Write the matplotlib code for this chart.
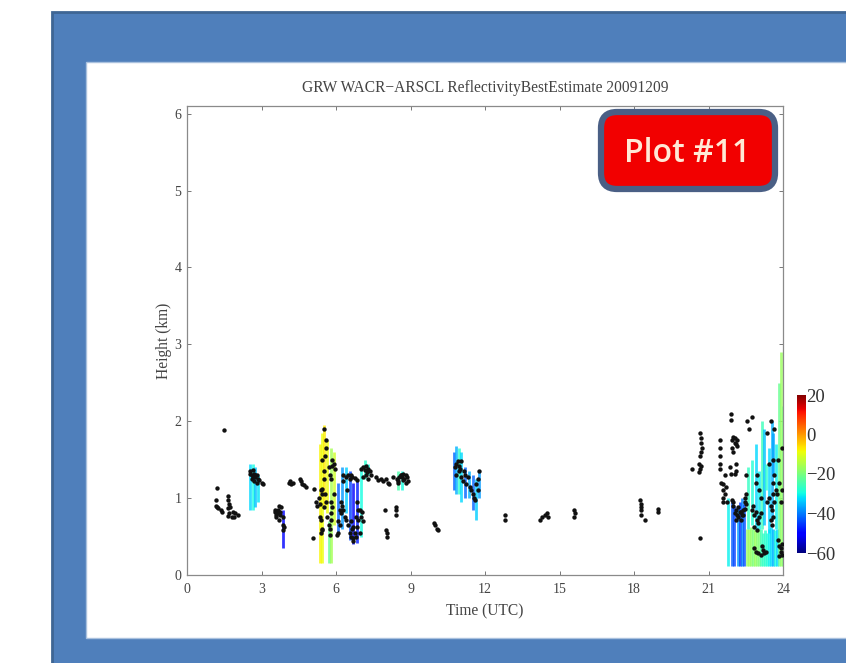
import matplotlib
matplotlib.use('Agg')
import matplotlib.pyplot as plt
import numpy as np
from matplotlib.patches import Rectangle, FancyBboxPatch

title = 'GRW WACR\u2212ARSCL ReflectivityBestEstimate 20091209'
x_ticks = [0, 3, 6, 9, 12, 15, 18, 21, 24]
y_ticks = [0, 1, 2, 3, 4, 5, 6]
cbar_ticks = [20, 0, -20, -40, -60]
cbar_labels = ['20', '0', '\u221220', '\u221240', '\u221260']

# coloured cloud columns
col_time = [2.55, 2.65, 2.75, 2.85, 3.85, 5.35, 5.42, 5.52, 5.62, 5.72, 5.8, 5.9, 6.1, 6.25, 6.4, 6.55, 6.7, 6.85, 7.0, 7.15, 7.3,
            8.5, 8.65, 10.75, 10.85, 10.95, 11.05, 11.2, 11.35, 11.5, 11.62, 11.75,
            21.8, 21.95, 22.03, 22.2, 22.28, 22.36, 22.44,
            22.55, 22.63, 22.71, 22.79, 22.87, 22.95, 23.03, 23.1, 23.18, 23.26, 23.34, 23.42, 23.5, 23.58, 23.66, 23.74, 23.85, 23.92, 23.98,
            22.58, 22.75, 22.9, 23.05, 23.15, 23.25, 23.42, 23.55, 23.7, 23.3, 23.6]
col_bottom = [0.85, 0.85, 0.88, 0.95, 0.35, 0.15, 0.15, 0.9, 0.8, 0.15, 0.15, 0.65, 0.55, 0.6, 0.8, 0.45, 0.4, 0.42, 0.5, 1.25, 1.3,
              1.1, 1.1, 1.1, 1.05, 1.05, 0.95, 1.0, 1.0, 0.85, 0.72, 1.0,
              0.12, 0.12, 0.12, 0.12, 0.12, 0.12, 0.12,
              0.12, 0.12, 0.12, 0.12, 0.12, 0.12, 0.12, 0.12, 0.12, 0.12, 0.12, 0.12, 0.12, 0.12, 0.12, 0.12, 0.12, 0.12, 0.12,
              0.6, 0.65, 0.6, 0.6, 0.6, 0.65, 0.55, 0.7, 0.6, 1.1, 1.3]
col_top = [1.45, 1.45, 1.4, 1.3, 0.85, 1.7, 1.85, 1.95, 1.75, 0.7, 1.65, 1.6, 1.2, 1.4, 1.4, 1.35, 1.2, 1.25, 1.4, 1.5, 1.45,
           1.35, 1.35, 1.6, 1.68, 1.65, 1.6, 1.4, 1.35, 1.3, 1.25, 1.35,
           1.0, 0.95, 0.9, 0.9, 0.95, 1.0, 0.92,
           0.6, 0.6, 0.62, 0.6, 0.58, 0.6, 0.6, 0.6, 0.55, 0.58, 0.55, 0.6, 0.62, 0.6, 0.58, 0.6, 2.5, 2.9, 2.2,
           1.4, 1.5, 1.7, 1.35, 2.0, 1.9, 1.65, 2.0, 1.7, 1.45, 1.85]
col_dbz = [-33, -30, -35, -32, -50, -8, -9, -7, -9, -22, -16, -12, -42, -38, -34, -45, -50, -48, -30, -28, -30,
           -25, -30, -42, -36, -28, -33, -42, -36, -42, -34, -38,
           -31, -43, -45, -38, -46, -40, -44,
           -17, -16, -18, -20, -17, -19, -20, -26, -27, -28, -29, -31, -33, -36, -30, -33, -22, -17, -20,
           -27, -29, -33, -31, -26, -35, -33, -36, -31, -28, -37]

# black dots, grouped by cluster along the time axis
dot_time = [1.2, 1.15, 1.15, 1.2, 1.25, 1.35, 1.4, 1.65, 1.65, 1.7, 1.65, 1.75, 1.7, 1.65, 1.8, 1.85, 1.95, 2.05, 1.9, 1.5,
            2.55, 2.6, 2.65, 2.7, 2.75, 2.8, 2.85, 2.6, 2.7, 2.8, 2.9, 3.0, 3.05, 2.55, 2.65, 2.75,
            3.55, 3.6, 3.65, 3.7, 3.75, 3.6, 3.7, 3.8, 3.75, 3.85, 3.85, 3.85, 3.9, 3.65, 3.55,
            4.1, 4.15, 4.2, 4.25, 4.55, 4.6, 4.65, 4.7, 4.8, 5.1,
            5.2, 5.25, 5.3, 5.35, 5.4, 5.45, 5.35, 5.4, 5.42, 5.38, 5.45, 5.5, 5.55, 5.52, 5.6, 5.58, 5.45, 5.5, 5.55, 5.6, 5.65, 5.42, 5.5,
            5.7, 5.75, 5.8, 5.78, 5.85, 5.9, 5.95, 5.82, 5.9, 5.72, 5.75, 5.78, 5.85, 5.8, 5.75, 5.08,
            6.1, 6.15, 6.2, 6.25, 6.3, 6.35, 6.4, 6.45, 6.5, 6.55, 6.6, 6.65, 6.75, 6.85, 6.2, 6.15, 6.1, 6.05, 6.3, 6.4, 6.3,
            6.5, 6.55, 6.6, 6.65, 6.7, 6.75, 6.8, 6.85, 6.9, 6.95, 7.0, 6.6, 6.7, 6.8, 6.9, 6.7, 6.85, 6.95, 7.05, 7.1,
            7.0, 7.1, 7.15, 7.2, 7.25, 7.3, 7.35, 7.4, 7.1, 7.2, 7.3, 7.6,
            7.7, 7.8, 7.9, 8.0, 8.1, 8.15, 8.3, 7.98, 8.0, 8.05, 8.05, 8.4, 8.42, 8.4,
            8.45, 8.5, 8.55, 8.6, 8.65, 8.7, 8.75, 8.8, 8.85, 8.9, 8.5, 8.6, 8.7, 8.8,
            9.95, 10.0, 10.05, 10.1,
            10.8, 10.85, 10.9, 10.95, 11.0, 11.05, 10.85, 10.95, 11.05, 11.15, 11.2, 11.3, 11.1, 11.25, 11.4, 11.45, 11.5, 11.55, 11.6, 11.7, 11.75, 11.7, 11.65,
            12.8, 12.82, 14.2, 14.3, 14.4, 14.5, 14.55, 15.6, 15.62, 15.6,
            18.25, 18.28, 18.3, 18.3, 18.3, 18.45, 18.95, 18.97,
            20.35, 20.65, 20.65, 20.68, 20.7, 20.72, 20.68, 20.65, 20.62, 20.65, 20.7, 20.62,
            21.45, 21.45, 21.45, 21.45, 21.45, 21.5, 21.6, 21.6, 21.65, 21.6, 21.7, 21.65, 21.75, 21.6,
            21.9, 21.92, 21.95, 22.0, 22.05, 22.1, 22.15, 21.95, 22.0, 22.05, 22.15, 22.1, 22.12, 22.05, 21.85, 21.9, 21.95, 22.0,
            22.0, 22.1, 22.2, 22.3, 22.4, 22.05, 22.15, 22.25, 22.35, 22.45, 22.1, 22.2, 22.3, 22.4, 22.45, 22.5, 22.5, 22.45, 22.62, 22.55, 22.75, 22.5,
            22.75, 22.8, 22.85, 22.9, 22.95, 23.0, 22.85, 22.95, 23.05, 23.1, 22.85, 22.9, 23.0, 23.1, 23.2, 23.25, 23.3, 23.15, 23.1, 23.05, 22.9, 22.95,
            23.35, 23.45, 23.5, 23.55, 23.6, 23.65, 23.5, 23.6, 23.55, 23.45, 23.6, 23.7, 23.65, 23.6, 23.65, 23.35, 23.5,
            23.8, 23.85, 23.9, 23.95, 23.85, 23.9, 23.95, 23.9, 23.95, 23.85, 23.75, 23.8, 23.95]
dot_height = [1.13, 0.98, 0.9, 0.88, 0.87, 0.85, 0.82, 1.03, 0.97, 0.92, 0.87, 0.88, 0.8, 0.77, 0.76, 0.82, 0.8, 0.78, 0.76, 1.88,
              1.35, 1.3, 1.37, 1.32, 1.28, 1.3, 1.25, 1.25, 1.22, 1.2, 1.24, 1.2, 1.18, 1.32, 1.27, 1.3,
              0.82, 0.78, 0.85, 0.9, 0.82, 0.75, 0.72, 0.88, 0.78, 0.75, 0.65, 0.58, 0.62, 0.8, 0.84,
              1.2, 1.22, 1.18, 1.2, 1.25, 1.22, 1.18, 1.17, 1.15, 1.12,
              0.95, 0.9, 1.0, 0.92, 1.1, 1.05, 0.75, 0.72, 0.6, 0.55, 0.58, 1.35, 1.55, 1.9, 1.75, 1.65, 1.5, 1.25, 1.05, 0.95, 0.75, 1.12, 0.88,
              1.4, 1.3, 1.25, 0.95, 1.5, 1.45, 1.38, 1.42, 1.05, 0.65, 0.6, 0.8, 0.88, 0.72, 0.52, 0.48,
              0.55, 0.65, 0.8, 0.9, 0.85, 0.75, 0.72, 1.1, 1.3, 1.25, 1.3, 1.28, 1.26, 1.24, 0.95, 0.85, 0.7, 0.52, 1.3, 1.28, 1.22,
              0.65, 0.55, 0.5, 0.6, 0.48, 0.55, 0.5, 0.62, 0.72, 0.85, 0.75, 0.7, 0.62, 0.75, 0.85, 0.44, 0.95, 0.55, 0.82, 0.7,
              1.38, 1.4, 1.36, 1.42, 1.34, 1.38, 1.35, 1.3, 1.28, 1.3, 1.25, 1.28,
              1.24, 1.25, 1.22, 1.25, 1.2, 1.18, 1.27, 0.85, 0.58, 0.55, 0.5, 0.85, 0.78, 0.88,
              1.25, 1.22, 1.28, 1.3, 1.27, 1.32, 1.25, 1.3, 1.28, 1.22, 1.2, 1.3, 1.24, 1.2,
              0.68, 0.65, 0.6, 0.58,
              1.4, 1.45, 1.48, 1.42, 1.38, 1.48, 1.3, 1.35, 1.28, 1.35, 1.3, 1.28, 1.22, 1.18, 1.15, 1.1, 1.05, 1.0, 0.98, 1.25, 1.35, 1.1, 1.18,
              0.78, 0.72, 0.72, 0.75, 0.78, 0.8, 0.76, 0.85, 0.8, 0.75,
              0.98, 0.92, 0.88, 0.84, 0.78, 0.72, 0.86, 0.82,
              1.38, 0.48, 1.85, 1.78, 1.72, 1.65, 1.6, 1.55, 1.45, 1.38, 1.42, 1.34,
              1.75, 1.65, 1.55, 1.45, 1.38, 1.2, 1.18, 1.1, 1.05, 1.0, 1.15, 1.3, 0.95, 0.95,
              2.1, 2.02, 1.75, 1.8, 1.78, 1.7, 1.75, 1.65, 1.6, 1.72, 1.68, 1.45, 1.35, 1.32, 1.4, 1.32, 0.98, 0.95,
              0.9, 0.85, 0.88, 0.82, 0.85, 0.8, 0.78, 0.82, 0.78, 0.86, 0.72, 0.75, 0.72, 0.78, 1.0, 1.05, 1.3, 0.95, 1.9, 2.0, 2.05, 0.92,
              0.85, 0.9, 0.78, 0.82, 0.72, 0.68, 0.62, 0.58, 0.75, 0.8, 0.35, 0.3, 0.28, 0.26, 0.32, 0.28, 0.3, 0.38, 1.0, 1.1, 1.2, 1.3,
              0.95, 1.0, 0.9, 0.85, 1.05, 0.95, 0.72, 0.75, 0.65, 1.45, 1.2, 1.1, 1.3, 1.5, 1.9, 1.85, 2.0,
              0.45, 0.38, 0.3, 0.26, 0.25, 0.35, 0.4, 0.95, 1.1, 1.2, 1.05, 1.5, 1.65]

plt.rcParams['font.family'] = ['Liberation Serif', 'DejaVu Sans']
grey_text = '#444444'

fig = plt.figure(figsize=(8.46, 6.63), dpi=100)
W, H = 846.0, 663.0


def fbox(x0, y0, x1, y1):
    # pixel box from the top left to figure fractions
    return x0 / W, 1 - y1 / H, (x1 - x0) / W, (y1 - y0) / H


# panel has to stay behind the axes
x, y, w, h = fbox(52, 12, 850, 670)
fig.add_artist(Rectangle((x, y), w, h, transform=fig.transFigure, fc='#4f7fbb', ec='#3f6694', lw=2, zorder=-5))
x, y, w, h = fbox(86, 62, 850, 638)
fig.add_artist(Rectangle((x, y), w, h, transform=fig.transFigure, fc='white', ec='#a9c1de', lw=1, zorder=-4))

ax = fig.add_axes(fbox(187, 106, 783, 575))
ax.set_xlim(0, 24)
ax.set_ylim(0, 6.1)
ax.set_facecolor('none')

norm = plt.Normalize(-60, 20)
cmap = plt.get_cmap('jet')
ax.vlines(col_time, col_bottom, col_top, colors=cmap(norm(col_dbz)), lw=2.0, alpha=0.8, zorder=2)
ax.scatter(dot_time, dot_height, s=10, c='#111111', linewidths=0, zorder=3)

ax.set_xticks(x_ticks)
ax.set_yticks(y_ticks)
ax.tick_params(direction='in', length=3, width=0.7, color='#777777', top=True, right=True,
               labelsize=10, labelcolor=grey_text)
ax.tick_params(axis='x', pad=6)
ax.tick_params(axis='y', pad=4)
for s in ax.spines.values():
    s.set_color('#8a8a8a')
    s.set_linewidth(0.9)
ax.set_xlabel('Time (UTC)', fontsize=11.2, color=grey_text, labelpad=5)
ax.set_ylabel('Height (km)', fontsize=11.2, color=grey_text, labelpad=2)
ax.set_title(title, fontsize=11.2, color=grey_text, pad=10)

cax = fig.add_axes(fbox(797, 395, 806, 553))
grad = np.linspace(20, -60, 128).reshape(-1, 1)
cax.imshow(grad, aspect='auto', cmap=cmap, norm=norm, extent=[0, 1, -60, 20])
cax.set_xticks([])
cax.yaxis.tick_right()
cax.set_yticks(cbar_ticks)
cax.set_yticklabels(cbar_labels)
cax.tick_params(length=0, labelsize=13.5, labelcolor='#333333', pad=0)
for s in cax.spines.values():
    s.set_visible(False)

# red badge sits on top of the axes
badge = FancyBboxPatch((601, 663 - 189), 174, 77, boxstyle='round,pad=0,rounding_size=16',
                       transform=None, fc='#f20000', ec='#4a5f85', lw=4.5, zorder=10)
fig.add_artist(badge)
fig.text(687 / W, 1 - 153 / H, 'Plot #11', family='Open Sans', weight='semibold', fontsize=23, color='#ffe9d6',
         ha='center', va='center', zorder=11)

fig.savefig('out.png', dpi=100)
